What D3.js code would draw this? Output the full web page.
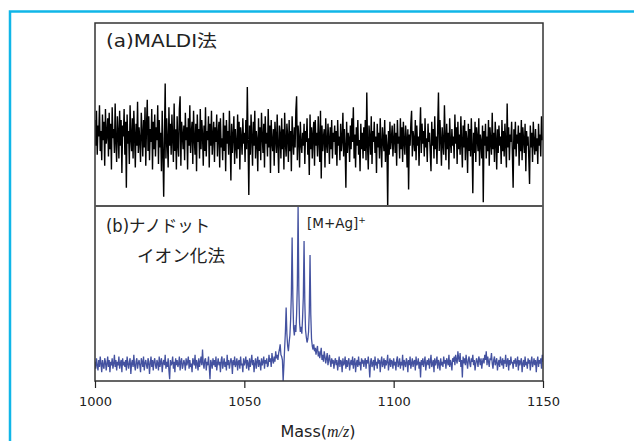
<!DOCTYPE html>
<html>
<head>
<meta charset="utf-8">
<script src="https://cdn.jsdelivr.net/npm/d3@7"></script>
<style>
  body { margin: 0; background: #fff; }
  svg text { font-family: "DejaVu Sans", "Noto Sans CJK JP", sans-serif; fill: #222; }
</style>
</head>
<body>
<div id="chart"></div>
<script>
// x axis
const massTicks = [1000, 1050, 1100, 1150];
const massStep = 0.25; // spectra sampled every 0.25 m/z from 1000 to 1150

// (a) MALDI : noise only (relative intensity 0-100 of panel height)
const maldiValues = [
  47, 33, 52, 28, 44, 38, 55, 30, 41, 25, 50, 36, 46, 22, 53, 34, 39, 48, 27, 51,
  31, 45, 20, 54, 37, 42, 29, 56, 35, 24, 49, 40, 26, 52, 33, 47, 18, 44, 38, 53,
  28, 46, 10, 50, 34, 41, 23, 55, 37, 30, 48, 26, 52, 39, 21, 45, 33, 57, 29, 43,
  36, 24, 51, 40, 27, 47, 32, 54, 22, 44, 58, 30, 49, 25, 42, 35, 53, 20, 46, 31,
  50, 27, 43, 36, 55, 23, 47, 32, 40, 19, 52, 29, 5, 38, 67, 26, 48, 35, 21, 54,
  33, 45, 28, 50, 37, 24, 56, 30, 42, 20, 49, 34, 27, 53, 60, 22, 46, 39, 31, 44,
  25, 51, 36, 43, 20, 48, 33, 55, 29, 40, 46, 23, 52, 37, 28, 45, 19, 50, 35, 42,
  26, 53, 31, 47, 39, 22, 44, 30, 54, 27, 41, 36, 49, 21, 45, 33, 52, 28, 38, 46,
  24, 43, 35, 50, 27, 39, 46, 21, 48, 32, 37, 25, 51, 30, 44, 19, 47, 34, 41, 28,
  52, 36, 14, 45, 29, 38, 49, 23, 42, 33, 26, 50, 31, 46, 20, 43, 37, 28, 48, 34,
  40, 24, 47, 31, 65, 35, 6, 44, 28, 50, 37, 22, 46, 33, 52, 26, 41, 36, 19, 48,
  30, 43, 25, 51, 38, 29, 45, 21, 49, 34, 40, 27, 53, 32, 44, 18, 47, 35, 30, 42,
  22, 46, 37, 29, 50, 33, 18, 44, 39, 26, 48, 31, 42, 20, 51, 35, 27, 45, 38, 24,
  47, 30, 41, 19, 49, 36, 28, 43, 32, 52, 60, 25, 44, 37, 21, 46, 34, 29, 40, 33,
  45, 23, 41, 35, 48, 28, 37, 17, 50, 31, 43, 26, 39, 46, 22, 47, 33, 40, 27, 49,
  36, 24, 52, 15, 44, 30, 38, 42, 21, 48, 34, 29, 45, 37, 23, 43, 31, 47, 26, 40,
  35, 44, 28, 41, 22, 47, 33, 38, 25, 45, 30, 36, 51, 27, 42, 32, 10, 46, 29, 40,
  37, 24, 44, 31, 48, 35, 54, 26, 39, 21, 43, 33, 47, 28, 36, 19, 45, 31, 40, 26,
  43, 30, 47, 25, 62, 33, 20, 44, 37, 28, 49, 23, 41, 35, 46, 29, 38, 18, 45, 32,
  40, 26, 48, 34, 21, 43, 36, 30, 47, 24, 39, 33, -2, 41, 28, 46, 31, 37, 44, 27,
  36, 45, 29, 40, 22, 47, 34, 38, 26, 48, 31, 43, 24, 46, 35, 28, 44, 37, 21, 42,
  9, 39, 33, 45, 52, 27, 41, 36, 30, 47, 25, 44, 33, 38, 22, 40, 54, 29, 45, 34,
  41, 27, 48, 32, 37, 24, 45, 35, 40, 29, 19, 46, 33, 42, 26, 49, 31, 38, 23, 44,
  62, 30, 47, 36, 22, 43, 34, 28, 55, 37, 25, 45, 31, 40, 20, 48, 35, 29, 42, 33,
  38, 26, 50, 34, 43, 23, 46, 31, 39, 28, 49, 35, 21, 44, 32, 47, 25, 41, 36, 18,
  45, 30, 42, 27, 48, 33, 7, 40, 29, 46, 24, 43, 37, 30, 48, 22, 39, 35, 26, 44,
  2, 41, 33, 45, 26, 38, 30, 47, 22, 43, 35, 28, 51, 31, 40, 24, 46, 36, 20, 42,
  29, 44, 33, 38, 23, 47, 30, 41, 27, 45, 34, 21, 56, 32, 43, 25, 39, 35, 46, 28,
  10, 42, 31, 46, 27, 39, 34, 44, 22, 40, 30, 47, 25, 43, 36, 29, 45, 19, 41, 33,
  38, 26, 12, 44, 32, 40, 24, 46, 35, 28, 42, 30, 37, 23, 45, 33, 39, 27, 49, 36,
  38
];

// (b) nanodot ionization : [M+Ag]+ isotope cluster, peaks at 1062-1072
const nanodotValues = [
  11, 7, 13, 9, 6, 12, 8, 14, 10, 5, 12, 9, 7, 13, 11, 6, 10, 14, 8, 12,
  5, 11, 9, 13, 7, 10, 15, 8, 12, 6, 11, 9, 14, 7, 10, 12, 5, 13, 9, 11,
  8, 12, 6, 14, 10, 7, 11, 13, 4, 10, 12, 8, 15, 9, 6, 11, 13, 7, 10, 12,
  9, 5, 13, 11, 8, 14, 6, 10, 12, 9, 7, 13, 11, 4, 10, 14, 8, 12, 6, 11,
  13, 9, 7, 12, 10, 6, 14, 8, 11, 13, 5, 10, 12, 9, 15, 7, 11, 8, 13, 6,
  1, 12, 9, 10, 14, 7, 11, 5, 13, 9, 12, 8, 10, 14, 6, 11, 13, 7, 9, 12,
  10, 6, 13, 9, 11, 14, 7, 12, 8, 10, 5, 13, 11, 9, 15, 7, 12, 10, 6, 13,
  8, 11, 14, 9, 18, 10, 7, 12, 13, 6, 11, 9, 14, 8, 1, 12, 10, 7, 13, 9,
  12, 8, 14, 6, 10, 13, 9, 11, 5, 12, 14, 7, 10, 13, 8, 11, 6, 15, 9, 12,
  7, 10, 13, 11, 4, 12, 9, 14, 8, 10, 13, 6, 11, 12, 7, 14, 9, 10, 5, 13,
  9, 11, 14, 7, 12, 10, 6, 13, 8, 11, 15, 9, 12, 5, 10, 13, 7, 11, 14, 8,
  12, 10, 6, 13, 9, 11, 14, 7, 12, 10, 13, 8, 9, 15, 11, 13, 8, 16, 12, 10,
  14, 11, 17, 13, 15, 12, 16, 18, 21, 15, 14, 12, 0, 9, 19, 28, 42, 27, 20, 17,
  22, 26, 35, 50, 82, 47, 30, 26, 32, 28, 38, 55, 100, 52, 33, 28, 31, 27, 36, 48,
  80, 45, 29, 25, 22, 24, 28, 40, 72, 38, 24, 20, 18, 21, 17, 19, 15, 18, 20, 14,
  17, 13, 16, 19, 12, 15, 11, 17, 14, 10, 13, 16, 9, 12, 15, 11, 8, 13, 10, 12,
  7, 11, 13, 9, 12, 6, 10, 14, 8, 12, 11, 5, 13, 9, 10, 14, 7, 12, 8, 11,
  13, 6, 10, 12, 9, 14, 7, 11, 13, 5, 10, 12, 8, 14, 9, 11, 6, 13, 10, 12,
  8, 11, 13, 7, 12, 10, 14, 9, 2, 11, 13, 8, 10, 12, 6, 14, 9, 11, 7, 13,
  10, 12, 5, 11, 14, 8, 10, 13, 7, 12, 9, 11, 15, 6, 10, 13, 8, 12, 11, 7,
  13, 9, 11, 6, 12, 14, 8, 10, 13, 7, 11, 9, 15, 6, 12, 10, 8, 13, 11, 5,
  12, 9, 14, 7, 10, 13, 8, 11, 12, 6, 14, 9, 10, 13, 7, 11, 2, 12, 9, 13,
  8, 11, 14, 6, 10, 12, 9, 13, 7, 11, 15, 8, 10, 12, 5, 13, 9, 11, 14, 7,
  12, 10, 6, 13, 9, 11, 8, 14, 10, 12, 7, 13, 11, 9, 15, 8, 12, 10, 6, 13,
  11, 14, 9, 15, 12, 10, 17, 13, 11, 16, 8, 12, 2, 14, 10, 13, 9, 15, 11, 7,
  12, 14, 10, 8, 13, 11, 15, 9, 12, 6, 10, 13, 11, 8, 14, 12, 9, 13, 7, 11,
  13, 10, 15, 12, 17, 9, 14, 11, 8, 13, 12, 16, 10, 7, 12, 14, 9, 11, 13, 6,
  10, 12, 8, 14, 11, 9, 13, 7, 12, 10, 15, 8, 11, 13, 6, 12, 9, 14, 10, 11,
  7, 12, 10, 13, 8, 11, 14, 6, 12, 9, 11, 13, 5, 10, 12, 8, 14, 9, 11, 7,
  13, 10, 12, 6, 11, 14, 8, 10, 13, 9, 12, 5, 11, 14, 8, 12, 10, 13, 7, 15,
  11
];

const width = 634, height = 441;
const plotL = 95, plotR = 543, plotT = 23, plotMid = 206, plotB = 381;

const svg = d3.select("#chart").append("svg")
    .attr("width", width)
    .attr("height", height);

// cyan outer frame (runs off the picture to the right and bottom)
svg.append("rect")
    .attr("x", 10).attr("y", 11.5)
    .attr("width", 700).attr("height", 500)
    .attr("fill", "none")
    .attr("stroke", "#10b6e8")
    .attr("stroke-width", 2.5);

const x = d3.scaleLinear().domain([1000, 1150]).range([plotL, plotR]);
const yTop = d3.scaleLinear().domain([0, 100]).range([plotMid, plotT]);
const yBot = d3.scaleLinear().domain([0, 100]).range([plotB, plotMid]);

function drawPanel(values, y, y0, y1, color, sw, id) {
  svg.append("clipPath").attr("id", id)
    .append("rect")
      .attr("x", plotL).attr("y", y0)
      .attr("width", plotR - plotL).attr("height", y1 - y0);

  let pts = values.map((v, i) => ({mass: 1000 + i * massStep, v: v}));
  let line = d3.line()
      .x(d => x(d.mass))
      .y(d => y(d.v));

  svg.append("path")
      .datum(pts)
      .attr("clip-path", "url(#" + id + ")")
      .attr("fill", "none")
      .attr("stroke", color)
      .attr("stroke-width", sw)
      .attr("stroke-linejoin", "bevel")
      .attr("d", line);
}

drawPanel(maldiValues, yTop, plotT, plotMid, "#000", 1.4, "clipA");
drawPanel(nanodotValues, yBot, plotMid, plotB, "#4452a0", 1.3, "clipB");

// frame + divider
svg.append("rect")
    .attr("x", plotL).attr("y", plotT)
    .attr("width", plotR - plotL).attr("height", plotB - plotT)
    .attr("fill", "none")
    .attr("stroke", "#333")
    .attr("stroke-width", 1.5);
svg.append("line")
    .attr("x1", plotL).attr("x2", plotR)
    .attr("y1", plotMid).attr("y2", plotMid)
    .attr("stroke", "#555")
    .attr("stroke-width", 1.8);

// bottom axis
let axis = d3.axisBottom(x)
    .tickValues(massTicks)
    .tickSize(7)
    .tickPadding(9)
    .tickFormat(d3.format("d"));
let gx = svg.append("g")
    .attr("transform", "translate(0," + plotB + ")")
    .call(axis);
gx.select(".domain").remove();
gx.selectAll(".tick line").attr("stroke", "#222").attr("stroke-width", 1.2);
gx.selectAll(".tick text")
    .attr("font-size", 13)
    .attr("font-family", "Noto Sans CJK JP")
    .attr("fill", "#222");

// axis title
let title = svg.append("text")
    .attr("x", 318).attr("y", 437)
    .attr("text-anchor", "middle")
    .attr("font-size", 16);
title.append("tspan").text("Mass(");
title.append("tspan").text("m/z")
    .style("font-family", "Liberation Serif")
    .style("font-style", "italic");
title.append("tspan").text(")");

// panel labels (width fitted to the reference lettering)
function label(txt, lx, ly, len) {
  svg.append("text")
      .attr("x", lx).attr("y", ly)
      .attr("font-size", 17)
      .attr("textLength", len)
      .attr("lengthAdjust", "spacingAndGlyphs")
      .text(txt);
}
label("(a)MALDI法", 106, 47, 111);
label("(b)ナノドット", 106, 232, 104);
label("イオン化法", 137, 262, 88);

let ion = svg.append("text")
    .attr("x", 307).attr("y", 228)
    .attr("font-size", 13.5);
ion.append("tspan").text("[M+Ag]");
ion.append("tspan").text("+")
    .attr("dy", -5)
    .attr("font-size", 9);
</script>
</body>
</html>
